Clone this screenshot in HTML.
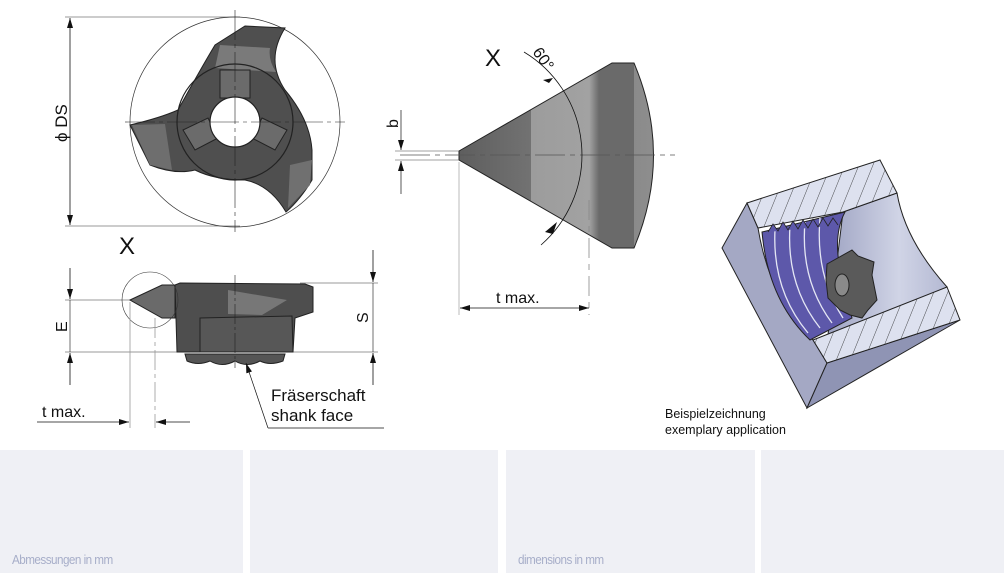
<!DOCTYPE html>
<html><head><meta charset="utf-8"><style>
html,body{margin:0;padding:0;background:#fff;width:1004px;height:573px;overflow:hidden}
svg{display:block}
.t{font-family:"Liberation Sans",sans-serif;fill:#111}
.p{position:absolute;top:450px;height:123px;background:#eff0f5}
.lb{position:absolute;top:552px;font-family:"Liberation Sans",sans-serif;font-size:13px;color:#a7aec9;letter-spacing:-0.6px;transform:scaleX(0.9);transform-origin:left}
</style></head><body>
<div class="p" style="left:0;width:243px"></div>
<div class="p" style="left:250px;width:248px"></div>
<div class="p" style="left:506px;width:249px"></div>
<div class="p" style="left:761px;width:243px"></div>
<div class="lb" style="left:12px">Abmessungen in mm</div>
<div class="lb" style="left:518px">dimensions in mm</div>
<svg width="1004" height="450" style="position:absolute;left:0;top:0" xmlns="http://www.w3.org/2000/svg">
<defs>
<marker id="a" viewBox="0 0 10 6" refX="10" refY="3" markerWidth="10" markerHeight="6" orient="auto-start-reverse" markerUnits="userSpaceOnUse"><path d="M0,0L10,3L0,6z" fill="#111"/></marker>
<linearGradient id="cone" x1="0" x2="1" y1="0" y2="0">
<stop offset="0" stop-color="#5e5e5e"/><stop offset="0.37" stop-color="#727272"/><stop offset="0.37" stop-color="#9c9c9c"/><stop offset="0.67" stop-color="#a2a2a2"/><stop offset="0.72" stop-color="#6a6a6a"/><stop offset="0.9" stop-color="#6a6a6a"/><stop offset="0.9" stop-color="#8a8a8a"/><stop offset="1" stop-color="#8e8e8e"/></linearGradient>
<linearGradient id="cyl" x1="0" x2="1" y1="0" y2="0"><stop offset="0" stop-color="#9ea3c2"/><stop offset="0.6" stop-color="#d0d4e6"/><stop offset="1" stop-color="#b4b9d3"/></linearGradient>
<pattern id="h" width="13" height="13" patternUnits="userSpaceOnUse" patternTransform="rotate(22)"><rect width="13" height="13" fill="#dde1ef"/><line x1="0" y1="0" x2="0" y2="13" stroke="#222" stroke-width="0.8"/></pattern>
</defs>

<!-- TOP VIEW -->
<line x1="65" y1="17" x2="240" y2="17" stroke="#333" stroke-width="0.6"/>
<line x1="65" y1="226" x2="240" y2="226" stroke="#333" stroke-width="0.6"/>
<line x1="70" y1="18" x2="70" y2="225" stroke="#111" stroke-width="0.8" marker-start="url(#a)" marker-end="url(#a)"/>
<text class="t" font-size="17" transform="translate(67,142) rotate(-90)">ϕ DS</text>
<circle cx="235" cy="122" r="105" fill="none" stroke="#333" stroke-width="0.7"/>
<path d="M245,26 L285,28 Q265,60 285,90 Q310,120 312,150 L312,180 Q300,200 286,212 Q270,185 245,180 Q215,180 195,170 Q175,175 150,165 L130,125 Q160,118 178,110 Q200,70 215,45 Z" fill="#4f4f4f" stroke="#222" stroke-width="1"/>
<path d="M220,45 L270,48 Q268,60 276,72 L215,68 Z" fill="#7a7a7a"/>
<path d="M132,125 L165,124 L172,170 L150,165 Z" fill="#6e6e6e"/>
<path d="M290,165 L312,160 L310,185 L288,208 Z" fill="#707070"/>
<circle cx="235" cy="122" r="58" fill="none" stroke="#222" stroke-width="1.2"/>
<rect x="220" y="70" width="30" height="28" fill="#6b6b6b" stroke="#222"/>
<path d="M183,130 L208,118 L218,138 L195,150 Z" fill="#6b6b6b" stroke="#222"/>
<path d="M262,118 L287,130 L275,150 L252,138 Z" fill="#6b6b6b" stroke="#222"/>
<circle cx="235" cy="122" r="25" fill="#fff" stroke="#222" stroke-width="1.2"/>
<line x1="235" y1="10" x2="235" y2="232" stroke="#222" stroke-width="0.6" stroke-dasharray="30,4,4,4"/>
<line x1="125" y1="122" x2="345" y2="122" stroke="#222" stroke-width="0.6" stroke-dasharray="30,4,4,4"/>
<text class="t" font-size="24" x="119" y="254">X</text>

<!-- SIDE VIEW -->
<line x1="65" y1="300" x2="200" y2="300" stroke="#333" stroke-width="0.6"/>
<line x1="65" y1="352" x2="378" y2="352" stroke="#333" stroke-width="0.6"/>
<line x1="300" y1="283" x2="378" y2="283" stroke="#333" stroke-width="0.6"/>
<line x1="70" y1="268" x2="70" y2="299" stroke="#111" stroke-width="0.8" marker-end="url(#a)"/>
<line x1="70" y1="385" x2="70" y2="353" stroke="#111" stroke-width="0.8" marker-end="url(#a)"/>
<line x1="70" y1="300" x2="70" y2="352" stroke="#111" stroke-width="0.6"/>
<text class="t" font-size="16" transform="translate(67,332) rotate(-90)">E</text>
<line x1="373" y1="250" x2="373" y2="282" stroke="#111" stroke-width="0.8" marker-end="url(#a)"/>
<line x1="373" y1="385" x2="373" y2="353" stroke="#111" stroke-width="0.8" marker-end="url(#a)"/>
<line x1="373" y1="283" x2="373" y2="352" stroke="#111" stroke-width="0.6"/>
<text class="t" font-size="16" transform="translate(368,323) rotate(-90)">S</text>
<path d="M185,354 L285,354 L283,361 Q270,366 260,361 Q247,368 235,361 Q222,368 210,361 Q198,366 187,361 Z" fill="#555" stroke="#222"/>
<path d="M175,285 L180,283 L305,284 L313,287 L313,312 L295,318 L293,352 L177,352 Z" fill="#4e4e4e" stroke="#222" stroke-width="1"/>
<path d="M200,318 L292,316 L293,352 L200,352 Z" fill="#575757" stroke="#222" stroke-width="1"/>
<path d="M228,290 L287,300 L262,315 L228,314 Z" fill="#777"/>
<path d="M130,300 L162,285 L175,285 L175,318 L162,318 Z" fill="#6a6a6a" stroke="#222" stroke-width="1"/>
<circle cx="150" cy="300" r="28" fill="none" stroke="#333" stroke-width="0.6"/>
<line x1="235" y1="275" x2="235" y2="368" stroke="#222" stroke-width="0.6" stroke-dasharray="20,3,3,3"/>
<line x1="130" y1="302" x2="130" y2="428" stroke="#999" stroke-width="0.8"/>
<line x1="155" y1="318" x2="155" y2="428" stroke="#999" stroke-width="0.8" stroke-dasharray="20,4,4,4"/>
<line x1="37" y1="422" x2="129" y2="422" stroke="#111" stroke-width="0.7" marker-end="url(#a)"/>
<line x1="190" y1="422" x2="156" y2="422" stroke="#111" stroke-width="0.7" marker-end="url(#a)"/>
<text class="t" font-size="16" x="42" y="417">t max.</text>
<line x1="268" y1="428" x2="246" y2="363" stroke="#111" stroke-width="0.7" marker-end="url(#a)"/>
<line x1="268" y1="428" x2="384" y2="428" stroke="#111" stroke-width="0.7"/>
<text class="t" font-size="17" x="271" y="401">Fräserschaft</text>
<text class="t" font-size="17" x="271" y="421">shank face</text>

<!-- DETAIL X -->
<text class="t" font-size="24" x="485" y="66">X</text>
<path d="M459,151 L612,63 L634,63 Q673,155 634,248 L612,248 L459,160 Z" fill="url(#cone)" stroke="#222" stroke-width="1"/>
<line x1="400" y1="155" x2="675" y2="155" stroke="#555" stroke-width="0.8" stroke-dasharray="30,5,5,5"/>
<line x1="395" y1="151" x2="459" y2="151" stroke="#444" stroke-width="0.6"/>
<line x1="395" y1="160" x2="459" y2="160" stroke="#444" stroke-width="0.6"/>
<line x1="401" y1="110" x2="401" y2="150" stroke="#111" stroke-width="0.7" marker-end="url(#a)"/>
<line x1="401" y1="194" x2="401" y2="161" stroke="#111" stroke-width="0.7" marker-end="url(#a)"/>
<text class="t" font-size="16" transform="translate(398,128) rotate(-90)">b</text>
<path d="M524,52 A120,120 0 0 1 541,245" fill="none" stroke="#111" stroke-width="0.8"/>
<path d="M549,83 l-6,-3 l10,-2z" fill="#111"/>
<path d="M557,222 l-12,10 l8,2z" fill="#111"/>
<text class="t" font-size="16" transform="translate(532,52) rotate(55)">60°</text>
<line x1="459" y1="162" x2="459" y2="315" stroke="#aaa" stroke-width="0.8"/>
<line x1="589" y1="200" x2="589" y2="315" stroke="#888" stroke-width="0.8" stroke-dasharray="20,6,6,6"/>
<line x1="460" y1="308" x2="589" y2="308" stroke="#111" stroke-width="0.7" marker-start="url(#a)" marker-end="url(#a)"/>
<text class="t" font-size="16" x="496" y="303">t max.</text>

<!-- 3D BLOCK -->
<!-- inner cylinder -->
<path d="M843,212 L897,193 Q905,240 947,287 L827,343 Z" fill="url(#cyl)" stroke="#222"/>
<!-- left face -->
<path d="M747,203 L722,248 L807,408 L827,363 L813,340 Q770,300 758,228 Z" fill="#a4a8c4" stroke="#222"/>
<!-- bottom face -->
<polygon points="807,408 960,320 827,363" fill="#8f94b4" stroke="#222"/>
<!-- top hatched -->
<polygon points="747,203 880,160 897,193 843,212 758,228" fill="url(#h)" stroke="#222"/>
<!-- lower hatched -->
<polygon points="813,340 947,287 960,320 827,363" fill="url(#h)" stroke="#222"/>
<!-- threads -->
<path d="M762,232 L845,212 Q830,240 845,290 L852,318 L810,340 Q768,300 762,232 Z" fill="#5d58aa" stroke="#222"/>
<path d="M775,230 Q772,290 808,333 M790,226 Q786,285 820,328 M805,222 Q800,280 832,323 M820,218 Q815,275 843,318" fill="none" stroke="#e4e6f4" stroke-width="1.3"/>
<path d="M768,232 l5,-8 l5,7 l5,-9 l5,8 l5,-9 l5,8 l5,-9 l5,8 l5,-9 l5,8 l5,-9 l5,8 l5,-8 l5,7" fill="#5d58aa" stroke="#222" stroke-width="0.8"/>
<!-- tool -->
<path d="M827,264 L852,250 L858,256 L874,262 L872,275 L877,300 L868,310 L862,318 L850,315 L840,310 L828,298 L826,280 Z" fill="#5a5a5a" stroke="#222"/>
<ellipse cx="842" cy="285" rx="7" ry="11" fill="#8a8a8a" stroke="#222"/>
<text class="t" font-size="12.5" x="665" y="418">Beispielzeichnung</text>
<text class="t" font-size="12.5" x="665" y="434">exemplary application</text>
</svg>
</body></html>
